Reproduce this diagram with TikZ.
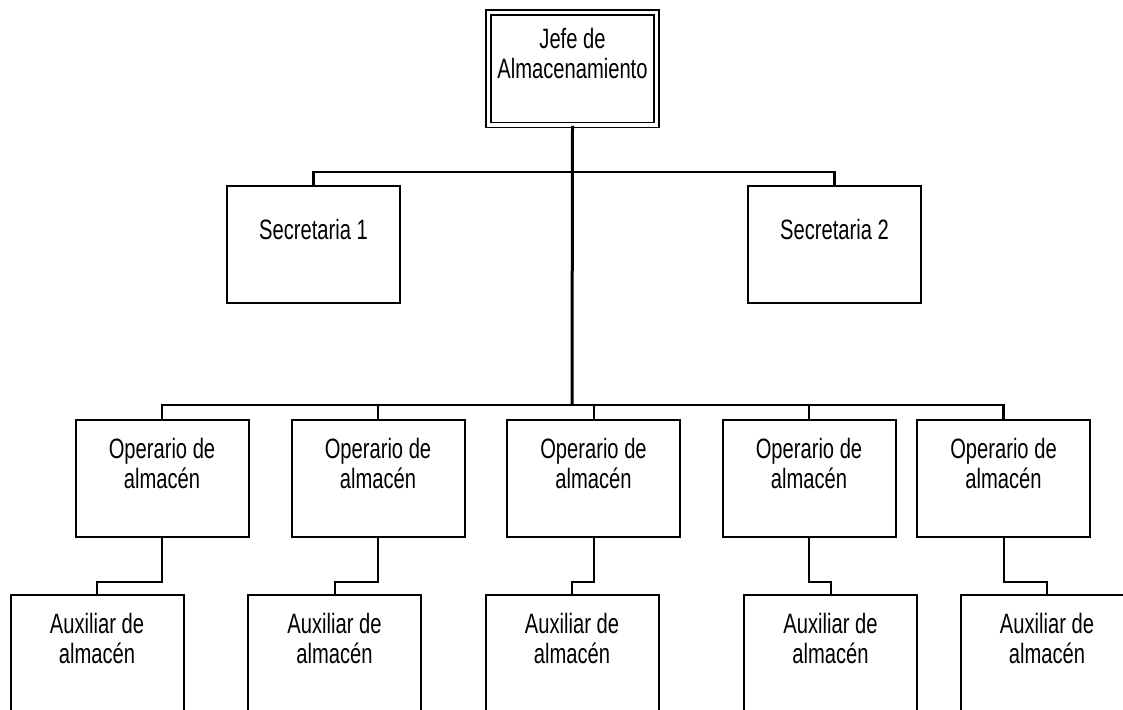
\documentclass[tikz,border=0pt]{standalone}
\usepackage{fontspec}
\setmainfont{Liberation Sans}[FakeStretch=0.72]
\begin{document}
\begin{tikzpicture}[x=1pt, y=-1pt,
    puesto/.style ={rectangle, draw, line width=2pt, minimum width=173pt,
      minimum height=117pt, inner sep=0pt, align=center,
      font=\fontsize{28}{30}\selectfont},
    jefe/.style ={puesto, double, line width=1.6pt, double distance=3.2pt,
      minimum width=168pt, minimum height=112.5pt},
    tronco/.style ={line width=3pt},
    barra/.style ={line width=2.4pt},
    enlace/.style ={line width=2pt}]
   \useasboundingbox (0,0) rectangle (1123,709);
   \node[jefe] (J) at (572.5,68.75) {Jefe de\\Almacenamiento\\ \mbox{}};
   \node[puesto] (S1) at (313.5,244.5) {Secretaria 1\\ \mbox{}};
   \node[puesto] (S2) at (834.5,244.5) {Secretaria 2\\ \mbox{}};
   \node[puesto] (O1) at (162,478.5) {Operario de\\almacén\\ \mbox{}};
   \node[puesto] (O2) at (378,478.5) {Operario de\\almacén\\ \mbox{}};
   \node[puesto] (O3) at (593.5,478.5) {Operario de\\almacén\\ \mbox{}};
   \node[puesto] (O4) at (809,478.5) {Operario de\\almacén\\ \mbox{}};
   \node[puesto] (O5) at (1003.5,478.5) {Operario de\\almacén\\ \mbox{}};
   \node[puesto] (A1) at (97,653.5) {Auxiliar de\\almacén\\ \mbox{}};
   \node[puesto] (A2) at (334.5,653.5) {Auxiliar de\\almacén\\ \mbox{}};
   \node[puesto] (A3) at (572,653.5) {Auxiliar de\\almacén\\ \mbox{}};
   \node[puesto] (A4) at (830.5,653.5) {Auxiliar de\\almacén\\ \mbox{}};
   \node[puesto] (A5) at (1047,653.5) {Auxiliar de\\almacén\\ \mbox{}};
   \coordinate (BS) at (572,172);
   \coordinate (BO) at (572,405);
   % secretarias
   \draw[barra] (S1.north) |- (BS) -| (S2.north);
   % operarios
   \draw[barra] (O1.north) |- (BO) -| (O5.north);
   \draw[enlace] (O2.north) -- (O2.north |- BO);
   \draw[enlace] (O3.north) -- (O3.north |- BO);
   \draw[enlace] (O4.north) -- (O4.north |- BO);
   \draw[tronco] (J.south) -- (BO);
   % auxiliares
   \draw[enlace] (O1.south) -- ++(0,43.5) -| (A1.north);
   \draw[enlace] (O2.south) -- ++(0,43.5) -| (A2.north);
   \draw[enlace] (O3.south) -- ++(0,43.5) -| (A3.north);
   \draw[enlace] (O4.south) -- ++(0,43.5) -| (A4.north);
   \draw[enlace] (O5.south) -- ++(0,43.5) -| (A5.north);
\end{tikzpicture}
\end{document}
